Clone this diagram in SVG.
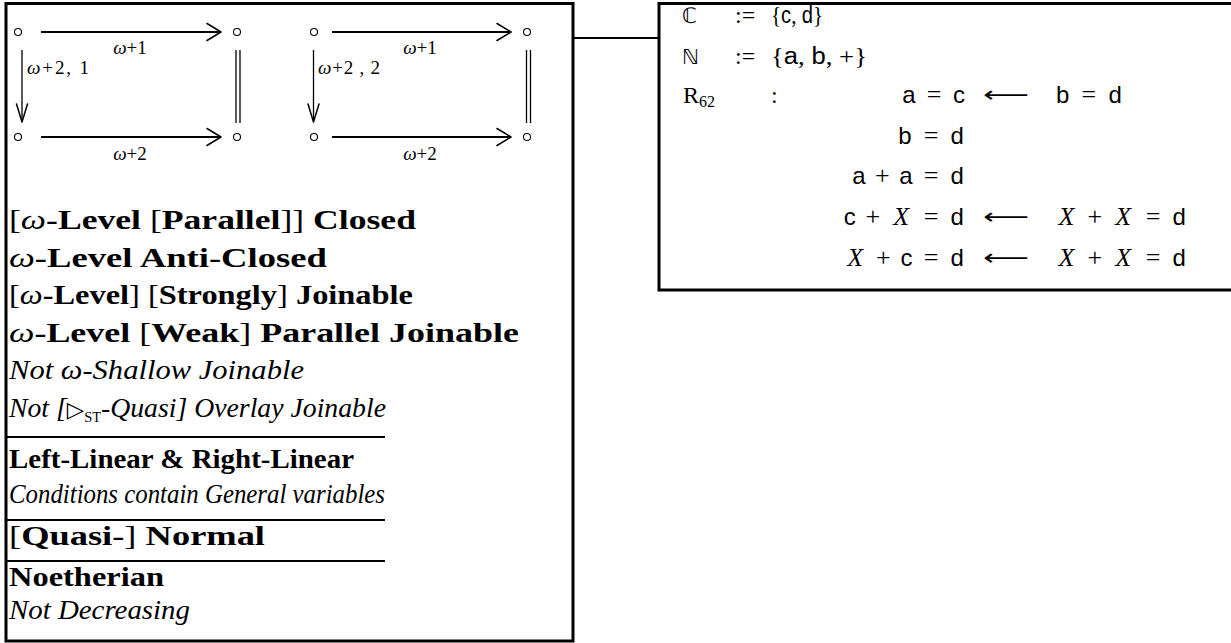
<svg xmlns="http://www.w3.org/2000/svg" width="1231" height="643" viewBox="0 0 1231 643">
<style>
.frame{fill:none;stroke:#000;stroke-width:3}
.sep{stroke:#000;stroke-width:2}
.edge{stroke:#000;stroke-width:2.2;fill:none}
.thin{stroke:#000;stroke-width:1.3;fill:none}
.head{stroke:#000;stroke-width:1.5;fill:none;stroke-linecap:round;stroke-linejoin:round}
.node{fill:#fff;stroke:#000;stroke-width:1.1}
.lbl{font-family:"Liberation Serif",serif;font-size:19px}
.t{font-family:"Liberation Serif",serif;font-size:27px}
.r{font-family:"Liberation Serif",serif;font-size:24px}
.m{font-family:"Liberation Serif",serif;font-size:26px}
.b{font-weight:bold}
.i{font-style:italic}
.ss{font-family:"Liberation Sans",sans-serif;font-size:24px}
.sm{font-family:"Liberation Sans",sans-serif;font-size:23px}
.bb{font-family:"DejaVu Sans",sans-serif}
</style>
<rect width="1231" height="643" fill="#fff"/>

<g id="connectors">
<line x1="573" y1="38" x2="659" y2="38" class="edge"/>
<line x1="41" y1="32" x2="221" y2="32" class="edge"/>
<path d="M207,23.5 L221,32 L207,40.5" class="head"/>
<line x1="41" y1="137" x2="221" y2="137" class="edge"/>
<path d="M207,128.5 L221,137 L207,145.5" class="head"/>
<line x1="22" y1="50" x2="22" y2="121" class="thin"/>
<path d="M16.5,104 L22,122 L27.5,104" class="head"/>
<line x1="236" y1="50" x2="236" y2="123" class="thin"/>
<line x1="240" y1="50" x2="240" y2="123" class="thin"/>
<line x1="332" y1="32" x2="511" y2="32" class="edge"/>
<path d="M497,23.5 L511,32 L497,40.5" class="head"/>
<line x1="332" y1="137" x2="511" y2="137" class="edge"/>
<path d="M497,128.5 L511,137 L497,145.5" class="head"/>
<line x1="313.5" y1="50" x2="313.5" y2="121" class="thin"/>
<path d="M308,104 L313.5,122 L319,104" class="head"/>
<line x1="526.5" y1="50" x2="526.5" y2="123" class="thin"/>
<line x1="530.5" y1="50" x2="530.5" y2="123" class="thin"/>
</g>

<g id="diagram-labels" class="lbl">
<text x="130" y="54" text-anchor="middle"><tspan class="i">ω</tspan>+1</text>
<text x="130" y="160" text-anchor="middle"><tspan class="i">ω</tspan>+2</text>
<text x="27" y="74" textLength="62" lengthAdjust="spacing"><tspan class="i">ω</tspan>+2, 1</text>
<text x="420" y="54" text-anchor="middle"><tspan class="i">ω</tspan>+1</text>
<text x="420" y="160" text-anchor="middle"><tspan class="i">ω</tspan>+2</text>
<text x="318" y="74" textLength="62" lengthAdjust="spacing"><tspan class="i">ω</tspan>+2 , 2</text>
</g>

<g id="n1"><circle cx="18" cy="32" r="3.5" class="node"/></g>
<g id="n2"><circle cx="237" cy="32" r="3.5" class="node"/></g>
<g id="n3"><circle cx="18" cy="137" r="3.5" class="node"/></g>
<g id="n4"><circle cx="237" cy="137" r="3.5" class="node"/></g>
<g id="n5"><circle cx="314" cy="32" r="3.5" class="node"/></g>
<g id="n6"><circle cx="527" cy="32" r="3.5" class="node"/></g>
<g id="n7"><circle cx="314" cy="137" r="3.5" class="node"/></g>
<g id="n8"><circle cx="527" cy="137" r="3.5" class="node"/></g>

<g id="properties">
<rect x="6" y="3.5" width="567" height="637.5" class="frame"/>
<line x1="6" y1="437" x2="385" y2="437" class="sep"/>
<line x1="6" y1="520" x2="385" y2="520" class="sep"/>
<line x1="6" y1="561" x2="385" y2="561" class="sep"/>
<g class="t">
<text x="9" y="229" textLength="407" lengthAdjust="spacingAndGlyphs">[<tspan class="i">ω</tspan><tspan class="b">-Level</tspan> [<tspan class="b">Parallel</tspan>]] <tspan class="b">Closed</tspan></text>
<text x="9" y="266.5" textLength="318" lengthAdjust="spacingAndGlyphs"><tspan class="i">ω</tspan><tspan class="b">-Level Anti-Closed</tspan></text>
<text x="9" y="304" textLength="404" lengthAdjust="spacingAndGlyphs">[<tspan class="i">ω</tspan><tspan class="b">-Level</tspan>] [<tspan class="b">Strongly</tspan>] <tspan class="b">Joinable</tspan></text>
<text x="9" y="341.5" textLength="510" lengthAdjust="spacingAndGlyphs"><tspan class="i">ω</tspan><tspan class="b">-Level </tspan>[<tspan class="b">Weak</tspan>] <tspan class="b">Parallel Joinable</tspan></text>
<text x="9" y="379" class="i" textLength="295" lengthAdjust="spacingAndGlyphs">Not ω-Shallow Joinable</text>
<text x="9" y="416.5" textLength="377" lengthAdjust="spacingAndGlyphs"><tspan class="i">Not [</tspan><tspan class="bb" font-size="22">▷</tspan><tspan font-size="14" dy="5">ST</tspan><tspan class="i" dy="-5">-Quasi] Overlay Joinable</tspan></text>
<text x="9" y="468" class="b" textLength="345" lengthAdjust="spacingAndGlyphs">Left-Linear &amp; Right-Linear</text>
<text x="9" y="503" class="i" textLength="376" lengthAdjust="spacingAndGlyphs">Conditions contain General variables</text>
<text x="9" y="545" textLength="256" lengthAdjust="spacingAndGlyphs">[<tspan class="b">Quasi-</tspan>] <tspan class="b">Normal</tspan></text>
<text x="9" y="586" class="b" textLength="155" lengthAdjust="spacingAndGlyphs">Noetherian</text>
<text x="9" y="619" class="i" textLength="181" lengthAdjust="spacingAndGlyphs">Not Decreasing</text>
</g>
</g>

<g id="system">
<rect x="659" y="3.5" width="580" height="286.5" class="frame"/>
<g class="r">
<text x="682" y="23" class="bb" font-size="21">ℂ</text>
<text x="682" y="63.6" class="bb" font-size="21">ℕ</text>
<text x="683" y="103.2">R<tspan font-size="16" dy="4">62</tspan></text>
<text x="735" y="23">:=</text>
<text x="735" y="63.6">:=</text>
<text x="771" y="103.2">:</text>
<text x="771" y="23" textLength="52" lengthAdjust="spacingAndGlyphs">{<tspan class="sm">c</tspan>, <tspan class="sm">d</tspan>}</text>
<text x="771" y="63.6" textLength="96" lengthAdjust="spacingAndGlyphs">{<tspan class="sm">a</tspan>, <tspan class="sm">b</tspan>, +}</text>
</g>
<g class="m" text-anchor="middle">
<text y="103.2"><tspan x="909" class="ss">a</tspan><tspan x="934.2">=</tspan><tspan x="958.9" class="ss">c</tspan><tspan x="1062.7" class="ss">b</tspan><tspan x="1088.9">=</tspan><tspan x="1115.1" class="ss">d</tspan></text>
<text y="143.8"><tspan x="904.9" class="ss">b</tspan><tspan x="931.1">=</tspan><tspan x="957.3" class="ss">d</tspan></text>
<text y="184.4"><tspan x="858.9" class="ss">a</tspan><tspan x="882.4">+</tspan><tspan x="906" class="ss">a</tspan><tspan x="931.1">=</tspan><tspan x="957.3" class="ss">d</tspan></text>
<text y="225"><tspan x="849.8" class="ss">c</tspan><tspan x="872.8">+</tspan><tspan x="901.2" class="i">X</tspan><tspan x="931.1">=</tspan><tspan x="957.3" class="ss">d</tspan><tspan x="1066.5" class="i">X</tspan><tspan x="1094.8">+</tspan><tspan x="1123.2" class="i">X</tspan><tspan x="1153.1">=</tspan><tspan x="1179.3" class="ss">d</tspan></text>
<text y="265.6"><tspan x="855.1" class="i">X</tspan><tspan x="883.4">+</tspan><tspan x="906.5" class="ss">c</tspan><tspan x="931.1">=</tspan><tspan x="957.3" class="ss">d</tspan><tspan x="1066.5" class="i">X</tspan><tspan x="1094.8">+</tspan><tspan x="1123.2" class="i">X</tspan><tspan x="1153.1">=</tspan><tspan x="1179.3" class="ss">d</tspan></text>
</g>
<g class="bb" font-size="22">
<text x="983" y="102" textLength="46" lengthAdjust="spacingAndGlyphs">⟵</text>
<text x="983" y="224" textLength="46" lengthAdjust="spacingAndGlyphs">⟵</text>
<text x="983" y="264.5" textLength="46" lengthAdjust="spacingAndGlyphs">⟵</text>
</g>
</g>
</svg>
